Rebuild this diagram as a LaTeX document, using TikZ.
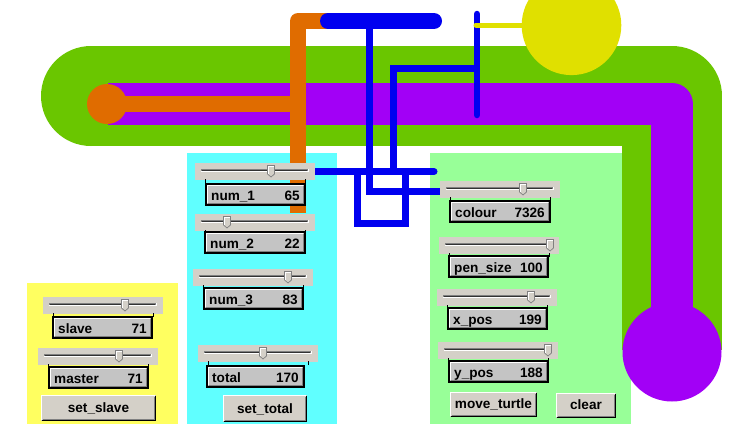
\documentclass[tikz,border=0pt]{standalone}
\usepackage{fontspec}
\setmainfont{Liberation Sans}
\definecolor{cyanpanel}{RGB}{96,255,255}
\definecolor{yellowpanel}{RGB}{255,255,96}
\definecolor{greenpanel}{RGB}{152,255,152}
\definecolor{bandgreen}{RGB}{106,198,0}
\definecolor{bandpurple}{RGB}{162,0,246}
\definecolor{wireorange}{RGB}{224,108,0}
\definecolor{wireblue}{RGB}{0,0,240}
\definecolor{sunyellow}{RGB}{224,224,0}
\definecolor{widgetbg}{RGB}{212,208,200}
\definecolor{dispfill}{RGB}{196,196,196}
\definecolor{shadowgrey}{RGB}{128,128,128}

\newcommand\WSlider[4]{%
  \node[sliderbox, anchor=north west] (#1) at (#2,#3) {};
  \fill[white] (#2+6,#3+5.5) rectangle (#2+114,#3+9);
  \fill[shadowgrey] (#2+6,#3+5.5) rectangle (#2+113,#3+8);
  \fill[black!80] (#2+7,#3+6.7) rectangle (#2+112,#3+8);
  \draw[tickmark] (#2+10,#3+16) -- (#2+10,#3+20);
  \draw[tickmark] (#2+110,#3+16) -- (#2+110,#3+20);
  \filldraw[fill=widgetbg, draw=shadowgrey, line width=0.7] (#4-3.5,#3+2.5) -- (#4+3.5,#3+2.5) -- (#4+3.5,#3+11) -- (#4,#3+14) -- (#4-3.5,#3+11) -- cycle;
  \draw[white, line width=0.7] (#4-2.8,#3+10.5) -- (#4-2.8,#3+3.2) -- (#4+2.8,#3+3.2);
}
\newcommand\WDisplay[7]{%
  \filldraw[fill=dispfill, draw=black, line width=1.6] (#2,#3) rectangle (#4,#5);
  \draw[white, line width=1] (#2+1.6,#5-1.6) -- (#2+1.6,#3+1.6) -- (#4-1.6,#3+1.6);
  \draw[shadowgrey, line width=1] (#2+1.6,#5-1.6) -- (#4-1.6,#5-1.6) -- (#4-1.6,#3+1.6);
  \node[lbl, anchor=base west] (#1) at (#2+5,#5-5) {#6};
  \node[lbl, anchor=base east] (#1-val) at (#4-5,#5-5) {#7};
}
\newcommand\WButton[6]{%
  \fill[widgetbg] (#2,#3) rectangle (#4,#5);
  \draw[black, line width=1] (#2+0.5,#5-0.5) -- (#4-0.5,#5-0.5) -- (#4-0.5,#3+0.5);
  \draw[shadowgrey, line width=1] (#2+1.5,#5-1.5) -- (#4-1.5,#5-1.5) -- (#4-1.5,#3+1.5);
  \draw[white, line width=1] (#2+0.5,#5-1) -- (#2+0.5,#3+0.5) -- (#4-1,#3+0.5);
  \node[lbl, anchor=base] (#1) at ({(#2+#4)/2},#5-9) {#6};
}

\begin{document}
\begin{tikzpicture}[x=1pt,y=-1pt,
  sliderbox/.style={rectangle, fill=widgetbg, draw=none, minimum width=120pt, minimum height=17pt, inner sep=0pt},
  tickmark/.style={black, line width=0.8},
  lbl/.style={font=\bfseries\fontsize{13.6}{15}\selectfont, inner sep=0pt, text=black},
  thinwire/.style={wireblue, line width=7},
]
\fill[white] (0,0) rectangle (744,426);
\useasboundingbox (0,0) rectangle (744,426);
\begin{scope}
\clip (0,0) rectangle (744,426);
% panels
\fill[yellowpanel] (27,283) rectangle (178,423.5);
\fill[cyanpanel] (187,153) rectangle (337,423.5);
\fill[greenpanel] (430,153) rectangle (631,423.5);
% green band
\fill[bandgreen] (91,96) circle (50);
\draw[bandgreen, line width=100, line join=round] (91,96) -- (672,96) -- (672,350);
% purple band
\draw[bandpurple, line width=42, line join=round] (108,104) -- (672,104) -- (672,352);
\fill[bandpurple] (672,352) circle (49.5);
% yellow sun
\fill[sunyellow] (571.5,25.3) circle (49.8);
% orange wire
\draw[wireorange, line width=16, line join=round] (330,21) -- (298,21) -- (298,213);
\draw[wireorange, line width=16] (298,104) -- (107,104);
\fill[wireorange] (107,104) circle (20);
% blue wires
\draw[wireblue, line width=16, line cap=round] (328,21) -- (434,21);
\draw[thinwire] (369.5,21) -- (369.5,191) -- (450,191);
\draw[thinwire, line cap=round] (300,171.5) -- (434,171.5);
\draw[thinwire] (393,171.5) -- (393,68.5) -- (477,68.5);
\draw[thinwire] (357.5,171.5) -- (357.5,223.5) -- (405,223.5) -- (405,171.5);
\draw[wireblue, line width=6.5, line cap=round] (477,14) -- (477,115);
\draw[sunyellow, line width=5, line cap=round] (476,25) -- (560,25);
\end{scope}
% yellow panel widgets
\WSlider{sslave}{43}{297}{125}
\WDisplay{slave}{53}{317}{152}{338}{slave}{71}
\WSlider{smaster}{38}{348}{119}
\WDisplay{master}{49}{367}{148}{388}{master}{71}
\WButton{setslave}{41}{395}{156}{421}{set\_slave}
% cyan panel widgets
\WSlider{snum1}{195}{163}{271}
\WDisplay{num1}{206}{184}{305}{205}{num\_1}{65}
\WSlider{snum2}{195}{214}{227}
\WDisplay{num2}{205}{232}{305}{253}{num\_2}{22}
\WSlider{snum3}{193}{269}{288}
\WDisplay{num3}{204}{288}{303}{309}{num\_3}{83}
\WSlider{stotal}{198}{345}{263}
\WDisplay{total}{207}{366}{304}{387}{total}{170}
\WButton{settotal}{223}{395}{307}{422}{set\_total}
% green panel widgets
\WSlider{scolour}{440}{181}{523}
\WDisplay{colour}{450}{201}{550}{222}{colour}{7326}
\WSlider{spensize}{439}{237}{550}
\WDisplay{pensize}{449}{256}{548}{277}{pen\_size}{100}
\WSlider{sxpos}{437}{289}{531}
\WDisplay{xpos}{448}{308}{547}{329}{x\_pos}{199}
\WSlider{sypos}{438}{342}{548}
\WDisplay{ypos}{449}{361}{548}{382}{y\_pos}{188}
\WButton{moveturtle}{450}{392}{537}{417}{move\_turtle}
\WButton{clearbtn}{556}{393}{616}{418}{clear}
\end{tikzpicture}
\end{document}
